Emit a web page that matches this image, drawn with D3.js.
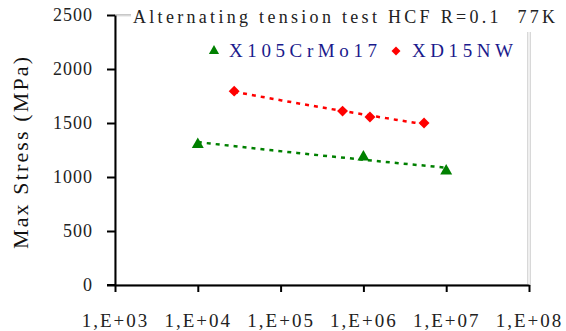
<!DOCTYPE html>
<html>
<head>
<meta charset="utf-8">
<script src="https://cdn.jsdelivr.net/npm/d3@7"></script>
<style>
  body { margin: 0; background: #fff; }
</style>
</head>
<body>
<div id="chart"></div>
<script>
// data
const titleText = "Alternating tension test HCF R=0.1  77K";
const yLabel = "Max Stress (MPa)";
const xTicks = [1e3, 1e4, 1e5, 1e6, 1e7, 1e8];
const xTickLabels = ["1,E+03", "1,E+04", "1,E+05", "1,E+06", "1,E+07", "1,E+08"];
const yTicks = [0, 500, 1000, 1500, 2000, 2500];

const seriesNames = ["X105CrMo17", "XD15NW"];
const x105Cycles = [1e4, 1e6, 1e7];
const x105Stress = [1310, 1195, 1065];
const xd15Cycles = [2.75e4, 5.6e5, 1.2e6, 5.4e6];
const xd15Stress = [1795, 1610, 1555, 1500];

const W = 566, H = 331;
const margin = {top: 15, right: 37, bottom: 46, left: 115};
const serif = "'Liberation Serif', 'Times New Roman', serif";

const svg = d3.select("#chart").append("svg")
    .attr("width", W)
    .attr("height", H)
    .attr("font-family", serif);

const xScale = d3.scaleLog().domain([1e3, 1e8]).range([margin.left, W - margin.right]);
const yScale = d3.scaleLinear().domain([0, 2500]).range([H - margin.bottom, margin.top]);

// plot area border (light grey, doubled on the right)
svg.append("rect")
    .attr("x", xScale(1e3)).attr("y", yScale(2500) - 0.5)
    .attr("width", xScale(1e8) - xScale(1e3) - 1.2)
    .attr("height", yScale(0) - yScale(2500))
    .attr("fill", "none").attr("stroke", "#c8c8c8").attr("stroke-width", 1);
svg.append("rect")
    .attr("x", xScale(1e3)).attr("y", yScale(2500) + 0.8)
    .attr("width", xScale(1e8) - xScale(1e3) + 1.2)
    .attr("height", yScale(0) - yScale(2500))
    .attr("fill", "none").attr("stroke", "#c8c8c8").attr("stroke-width", 1);

// title box covers the top of the frame
svg.append("rect")
    .attr("x", 131).attr("y", 0).attr("width", W - 131).attr("height", 32)
    .attr("fill", "#fff");
svg.append("text")
    .attr("x", 133).attr("y", 23)
    .attr("font-size", 18)
    .attr("fill", "#222")
    .style("white-space", "pre")
    .attr("textLength", 422)
    .attr("lengthAdjust", "spacing")
    .text(titleText);

// power trendline fitted to each series
function trend(cycles, stress) {
    const lx = cycles.map(Math.log10), ly = stress.map(Math.log10);
    const mx = d3.mean(lx), my = d3.mean(ly);
    const b = d3.sum(lx, (v, i) => (v - mx) * (ly[i] - my)) / d3.sum(lx, v => (v - mx) ** 2);
    const a = my - b * mx;
    const [lo, hi] = d3.extent(cycles);
    const steps = 20;
    const pts = [];
    for (let i = 0; i <= steps; i++) {
        const n = Math.pow(10, Math.log10(lo) + (Math.log10(hi) - Math.log10(lo)) * i / steps);
        pts.push([n, Math.pow(10, a + b * Math.log10(n))]);
    }
    return pts;
}

const line = d3.line()
    .x(d => xScale(d[0]))
    .y(d => yScale(d[1]));

svg.append("path")
    .attr("d", line(trend(x105Cycles, x105Stress)))
    .attr("fill", "none").attr("stroke", "#008000")
    .attr("stroke-width", 2.5).attr("stroke-dasharray", "4,5");
svg.append("path")
    .attr("d", line(trend(xd15Cycles, xd15Stress)))
    .attr("fill", "none").attr("stroke", "#ff0000")
    .attr("stroke-width", 2.5).attr("stroke-dasharray", "4,5");

// markers
const triangle = d3.symbol().type(d3.symbolTriangle).size(62);
const diamond = d3.symbol().type(d3.symbolSquare).size(60);

svg.selectAll(".tri")
    .data(x105Cycles.map((c, i) => [c, x105Stress[i]]))
    .join("path")
    .attr("class", "tri")
    .attr("d", triangle)
    .attr("fill", "#008000")
    .attr("transform", d => `translate(${xScale(d[0])},${yScale(d[1]) + 1})`);

svg.selectAll(".dia")
    .data(xd15Cycles.map((c, i) => [c, xd15Stress[i]]))
    .join("path")
    .attr("class", "dia")
    .attr("d", diamond)
    .attr("fill", "#ff0000")
    .attr("transform", d => `translate(${xScale(d[0])},${yScale(d[1])}) rotate(45)`);

// axes
const yAxis = d3.axisLeft(yScale)
    .tickValues(yTicks)
    .tickFormat(d3.format("d"))
    .tickSize(8)
    .tickPadding(14)
    .tickSizeOuter(0);
const yAxisG = svg.append("g")
    .attr("transform", `translate(${margin.left},0)`)
    .call(yAxis);

const xAxis = d3.axisBottom(xScale)
    .tickValues(xTicks)
    .tickSize(7)
    .tickPadding(22)
    .tickSizeOuter(0)
    .tickFormat((d, i) => xTickLabels[i]);
const xAxisG = svg.append("g")
    .attr("transform", `translate(0,${H - margin.bottom})`)
    .call(xAxis);

// x axis line also runs left to the 0 tick
svg.append("line")
    .attr("x1", margin.left - 8).attr("x2", margin.left)
    .attr("y1", H - margin.bottom).attr("y2", H - margin.bottom)
    .attr("stroke", "#000").attr("stroke-width", 2);

[yAxisG, xAxisG].forEach(g => {
    g.attr("font-family", serif);
    g.select(".domain").attr("stroke", "#000").attr("stroke-width", 2);
    g.selectAll(".tick line").attr("stroke", "#000").attr("stroke-width", 2);
    g.selectAll(".tick text")
        .attr("fill", "#222");
});
yAxisG.selectAll(".tick text").attr("font-size", 18).attr("letter-spacing", 1);
xAxisG.selectAll(".tick text").attr("font-size", 19).attr("letter-spacing", 2);

// y axis title
svg.append("text")
    .attr("transform", `translate(28,${(margin.top + H - margin.bottom) / 2 + 3}) rotate(-90)`)
    .attr("text-anchor", "middle")
    .attr("font-size", 22)
    .attr("fill", "#111")
    .attr("textLength", 192)
    .attr("lengthAdjust", "spacing")
    .text(yLabel);

// legend
const legend = svg.append("g");
legend.append("path")
    .attr("d", d3.symbol().type(d3.symbolTriangle).size(45))
    .attr("fill", "#008000")
    .attr("transform", "translate(214,51)");
legend.append("text")
    .attr("x", 229).attr("y", 57)
    .attr("font-size", 19)
    .attr("fill", "#1a1a8c")
    .attr("textLength", 148)
    .attr("lengthAdjust", "spacing")
    .text(seriesNames[0]);
legend.append("path")
    .attr("d", d3.symbol().type(d3.symbolSquare).size(40))
    .attr("fill", "#ff0000")
    .attr("transform", "translate(396,51) rotate(45)");
legend.append("text")
    .attr("x", 412).attr("y", 57)
    .attr("font-size", 19)
    .attr("fill", "#1a1a8c")
    .attr("textLength", 101)
    .attr("lengthAdjust", "spacing")
    .text(seriesNames[1]);
</script>
</body>
</html>
